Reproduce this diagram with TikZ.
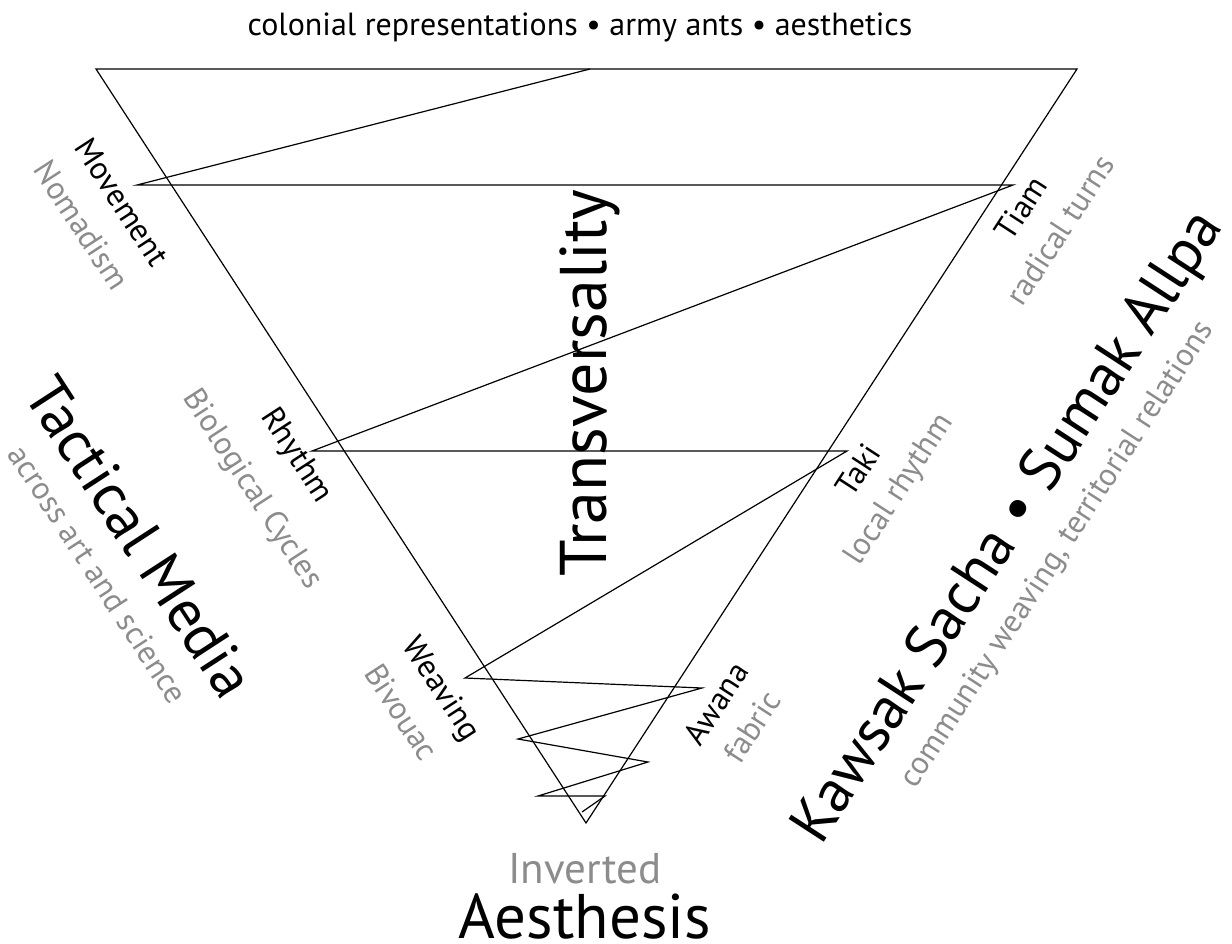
\documentclass[tikz,border=0pt]{standalone}
\usepackage{fontspec}
\setmainfont{PT Sans}
\usetikzlibrary{positioning}

\definecolor{softgray}{gray}{0.55}

\tikzset{
  edge/.style={line width=1.2pt, black, line join=miter},
  term/.style={font=\fontsize{32}{34}\selectfont, inner sep=0pt},
  gloss/.style={font=\fontsize{32}{34}\selectfont, text=softgray, inner sep=0pt},
  bigterm/.style={font=\fontsize{60}{64}\selectfont, inner sep=0pt},
  leftside/.style={rotate=-57},
  rightside/.style={rotate=57}
}

\begin{document}
\begin{tikzpicture}[x=1pt, y=-1pt]
\useasboundingbox (0,0) rectangle (1232,943);

% the inverted triangle
\coordinate (tl) at (96,69);
\coordinate (tr) at (1077,69);
\coordinate (bt) at (586,823);
\draw[edge] (tl) -- (tr) -- (bt) -- cycle;

% the zigzag
\coordinate (z0) at (590,69);
\coordinate (z1) at (137,185);
\coordinate (z2) at (1013,185);
\coordinate (z3) at (312,451);
\coordinate (z4) at (847,451);
\coordinate (z5) at (465,678);
\coordinate (z6) at (702,688);
\coordinate (z7) at (518,739);
\coordinate (z8) at (648,762);
\coordinate (z9) at (538,796);
\coordinate (z10) at (605,796);
\coordinate (z11) at (582,812);
\draw[edge] (z0) -- (z1) -- (z2) -- (z3) -- (z4) -- (z5) -- (z6) -- (z7)
  -- (z8) -- (z9) -- (z10) -- (z11);

% top line
\node[font=\fontsize{32}{34}\selectfont, inner sep=0pt] (head) at (580,27)
  {colonial representations • army ants • aesthetics};

% left side terms
\node[term, leftside] (movement) at (122,202) {Movement};
\node[gloss, leftside] (nomadism) at (82,225) {Nomadism};
\node[term, leftside] (rhythm) at (296,456) {Rhythm};
\node[gloss, leftside] (cycles) at (252,490) {Biological Cycles};
\node[term, leftside] (weaving) at (440,690) {Weaving};
\node[gloss, leftside] (bivouac) at (402,712) {Bivouac};

% right side terms
\node[term, rightside] (tiam) at (1021,208) {Tiam};
\node[gloss, rightside] (turns) at (1060,230) {radical turns};
\node[term, rightside] (taki) at (858,470) {Taki};
\node[gloss, rightside] (local) at (900,490) {local rhythm};
\node[term, rightside] (awana) at (716,703) {Awana};
\node[gloss, rightside] (fabric) at (752,727) {fabric};

% big titles
\node[bigterm, font=\fontsize{66}{70}\selectfont, rotate=90] (transv) at (590,383) {Transversality};
\node[bigterm, leftside] (tactical) at (140,537) {Tactical Media};
\node[gloss, leftside] (across) at (98,574) {across art and science};
\node[bigterm, rightside] (kawsak) at (1010,528) {Kawsak Sacha • Sumak Allpa};
\node[gloss, rightside] (community) at (1058,555) {community weaving, territorial relations};

% bottom
\node[gloss, font=\fontsize{43}{45}\selectfont, anchor=base] (inverted) at (585,883) {Inverted};
\node[bigterm, font=\fontsize{63}{66}\selectfont, anchor=base] (aesthesis) at (585,938) {Aesthesis};
\end{tikzpicture}
\end{document}
